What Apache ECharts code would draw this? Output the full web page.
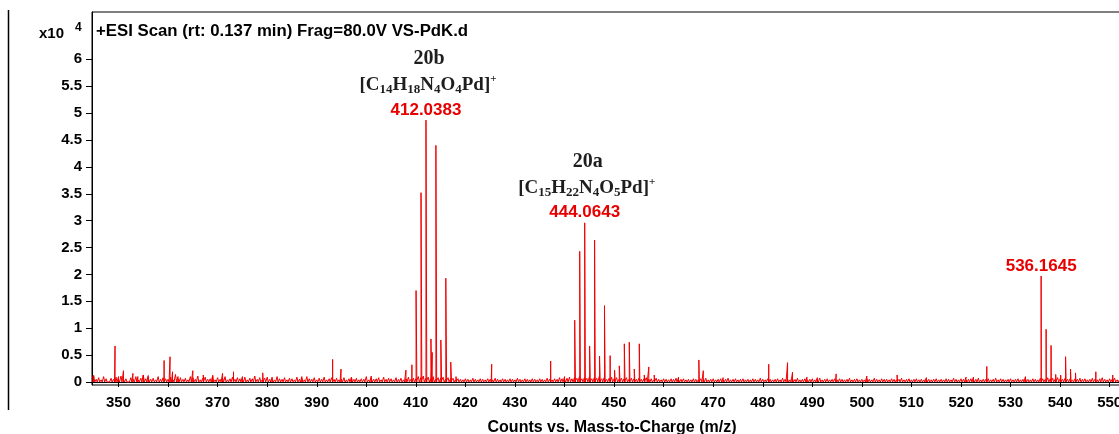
<!DOCTYPE html>
<html><head><meta charset="utf-8">
<script src="https://cdn.jsdelivr.net/npm/echarts@6/dist/echarts.min.js"></script>
<style>html,body{margin:0;padding:0;background:#fff;}#c{width:1119px;height:434px;}</style>
</head><body><div id="c"></div>
<script>
// ---- data ----
const xTicks = [350,360,370,380,390,400,410,420,430,440,450,460,470,480,490,500,510,520,530,540,550];
const yTicks = [0,0.5,1,1.5,2,2.5,3,3.5,4,4.5,5,5.5,6];

// distinct peaks: m/z and height (x10^4 counts)
const peakMz = [344.9,349.3,350.0,351.0,352.9,353.9,355.0,356.0,359.2,360.4,360.9,362.0,365.0,367.1,369.0,371.0,373.2,375.0,379.1,381.0,387.0,393.2,394.9,397.0,401.0,
  408.0,409.2,410.04,411.04,412.0383,413.04,413.3,414.04,415.04,416.04,417.04,418.1,425.3,
  437.2,440.0,442.05,443.06,444.0643,445.06,446.06,447.06,448.06,449.2,450.1,451.05,452.06,453.06,454.07,455.08,456.09,457.0,458.1,
  463.0,467.1,468.0,472.0,481.2,485.0,486.0,488.9,491.0,494.8,501.0,507.1,513.0,521.0,522.5,525.2,533.0,
  536.1645,537.17,538.17,539.1,540.1,541.1,542.1,543.1,547.2,550.6];
const peakHeight = [0.12,0.67,0.10,0.21,0.16,0.10,0.13,0.12,0.40,0.47,0.19,0.10,0.21,0.13,0.12,0.16,0.19,0.10,0.17,0.09,0.10,0.42,0.24,0.09,0.11,
  0.22,0.32,1.70,3.52,4.87,0.80,0.55,4.40,0.78,1.93,0.37,0.10,0.33,
  0.39,0.10,1.15,2.43,2.96,0.67,2.64,0.48,1.42,0.49,0.22,0.30,0.71,0.74,0.24,0.71,0.13,0.28,0.13,
  0.09,0.41,0.21,0.08,0.33,0.36,0.18,0.09,0.08,0.15,0.11,0.13,0.08,0.09,0.09,0.29,0.10,
  1.97,0.98,0.68,0.14,0.13,0.47,0.24,0.17,0.19,0.13];

// baseline noise, one value every 0.5 m/z starting at 345
const noiseStart = 345;
const noiseStep = 0.5;
const noise = [
  0.12,0.05,0.08,0.04,0.10,0.06,0.03,0.07,0.05,0.09,0.04,0.11,0.05,0.06,0.03,0.08,0.05,0.10,0.04,0.07,
  0.13,0.06,0.09,0.05,0.07,0.04,0.10,0.05,0.08,0.06,0.05,0.09,0.04,0.14,0.06,0.08,0.05,0.07,0.04,0.10,
  0.08,0.05,0.11,0.04,0.07,0.09,0.05,0.06,0.12,0.04,0.08,0.05,0.07,0.10,0.04,0.06,0.09,0.05,0.08,0.06,
  0.05,0.09,0.04,0.07,0.06,0.11,0.05,0.08,0.04,0.07,0.09,0.05,0.06,0.04,0.10,0.06,0.05,0.08,0.04,0.07,
  0.06,0.04,0.09,0.05,0.07,0.04,0.10,0.06,0.05,0.08,0.04,0.07,0.05,0.09,0.04,0.06,0.08,0.05,0.07,0.04,
  0.05,0.08,0.04,0.06,0.09,0.05,0.07,0.04,0.06,0.05,0.10,0.04,0.07,0.05,0.06,0.08,0.04,0.09,0.05,0.07,
  0.06,0.04,0.08,0.05,0.07,0.04,0.06,0.09,0.05,0.07,0.06,0.10,0.08,0.11,0.07,0.09,0.06,0.10,0.05,0.08,
  0.07,0.09,0.05,0.08,0.06,0.07,0.04,0.06,0.05,0.04,0.06,0.05,0.04,0.07,0.05,0.04,0.06,0.05,0.04,0.06,
  0.05,0.04,0.07,0.05,0.04,0.06,0.05,0.04,0.06,0.05,0.04,0.07,0.05,0.04,0.06,0.05,0.04,0.06,0.05,0.04,
  0.06,0.05,0.04,0.07,0.05,0.04,0.06,0.05,0.08,0.06,0.05,0.07,0.09,0.06,0.08,0.07,0.10,0.06,0.08,0.07,
  0.09,0.06,0.08,0.07,0.10,0.06,0.08,0.05,0.07,0.09,0.06,0.08,0.05,0.07,0.06,0.08,0.05,0.07,0.06,0.05,
  0.07,0.05,0.06,0.08,0.05,0.06,0.04,0.07,0.05,0.04,0.06,0.05,0.04,0.06,0.05,0.07,0.04,0.05,0.06,0.04,
  0.05,0.04,0.06,0.05,0.04,0.06,0.05,0.07,0.04,0.05,0.06,0.04,0.05,0.06,0.04,0.05,0.07,0.04,0.05,0.06,
  0.04,0.05,0.06,0.04,0.05,0.04,0.06,0.05,0.04,0.07,0.05,0.04,0.06,0.05,0.04,0.05,0.06,0.04,0.07,0.05,
  0.05,0.04,0.06,0.05,0.07,0.04,0.05,0.06,0.04,0.05,0.06,0.04,0.05,0.07,0.04,0.05,0.06,0.04,0.05,0.06,
  0.04,0.06,0.05,0.04,0.05,0.07,0.04,0.05,0.06,0.04,0.05,0.04,0.06,0.05,0.04,0.07,0.05,0.04,0.06,0.05,
  0.05,0.04,0.06,0.05,0.04,0.05,0.07,0.04,0.05,0.06,0.04,0.05,0.06,0.04,0.05,0.04,0.06,0.05,0.04,0.05,
  0.06,0.04,0.05,0.04,0.06,0.05,0.04,0.07,0.05,0.04,0.06,0.05,0.04,0.05,0.06,0.04,0.05,0.07,0.04,0.05,
  0.05,0.06,0.04,0.05,0.07,0.04,0.06,0.05,0.04,0.05,0.06,0.04,0.05,0.06,0.04,0.05,0.07,0.05,0.04,0.06,
  0.05,0.04,0.07,0.06,0.05,0.08,0.06,0.07,0.05,0.08,0.06,0.05,0.07,0.05,0.06,0.04,0.06,0.05,0.07,0.05,
  0.06,0.04,0.05,0.07,0.05,0.04,0.06,0.08,0.05,0.04,0.06,0.05,0.07,0.04,0.05,0.06,0.04,0.05,0.06,0.04
];

// annotated peaks
const annotMz = [412.0383, 444.0643, 536.1645];
const annotName = ['20b', '20a', ''];
const annotFormula = [
  '{n|[C}{s|14}{n|H}{s|18}{n|N}{s|4}{n|O}{s|4}{n|Pd]}{p|+}',
  '{n|[C}{s|15}{n|H}{s|22}{n|N}{s|4}{n|O}{s|5}{n|Pd]}{p|+}',
  ''
];

const titleText = '+ESI Scan (rt: 0.137 min) Frag=80.0V VS-PdK.d';
const xName = 'Counts vs. Mass-to-Charge (m/z)';

// ---- build trace: peaks as sticks, noise as a jagged profile ----
const pts = [];
peakMz.forEach((m, i) => pts.push({ m: m, h: peakHeight[i], w: 0 }));
noise.forEach((h, i) => pts.push({ m: noiseStart + i * noiseStep, h: h, w: 0.2 }));
pts.sort((a, b) => a.m - b.m);
const lineData = [];
pts.forEach(s => { lineData.push([s.m - s.w, 0], [s.m, s.h], [s.m + s.w, 0]); });

const FONT = 'Arial, "Liberation Sans", sans-serif';
const SERIF = '"Times New Roman", "Liberation Serif", serif';
const RED = '#e80000';
const INK = '#1e1e1e';

const chart = echarts.init(document.getElementById('c'), null, { renderer: 'canvas' });
const option = {
  animation: false,
  backgroundColor: '#fff',
  grid: { left: 92, top: 12, width: 1040, height: 373, show: true, borderColor: '#000', borderWidth: 1, backgroundColor: 'transparent', outerBoundsMode: 'none' },
  xAxis: {
    type: 'value', min: 344.65, max: 554.5,
    axisLine: { show: true, lineStyle: { color: '#000', width: 1 } },
    axisTick: { show: true, customValues: xTicks, length: 5, lineStyle: { color: '#000' } },
    axisLabel: { customValues: xTicks, color: '#000', fontFamily: FONT, fontWeight: 'bold', fontSize: 15, margin: 10 },
    splitLine: { show: false },
    name: xName, nameLocation: 'middle', nameGap: 35,
    nameTextStyle: { color: '#000', fontFamily: FONT, fontWeight: 'bold', fontSize: 16 }
  },
  yAxis: {
    type: 'value', min: -0.056, max: 6.88,
    axisLine: { show: true, lineStyle: { color: '#000', width: 1 } },
    axisTick: { show: true, customValues: yTicks, length: 6, lineStyle: { color: '#000' } },
    axisLabel: { customValues: yTicks, color: '#000', fontFamily: FONT, fontWeight: 'bold', fontSize: 15, margin: 10 },
    splitLine: { show: false }
  },
  series: [{
    type: 'line', data: lineData, showSymbol: false, symbol: 'none', clip: true,
    lineStyle: { color: '#f00000', width: 1, join: 'bevel' },
    emphasis: { disabled: true }, silent: true
  }]
};
chart.setOption(option);

const graphics = [
  { type: 'line', shape: { x1: 8.5, y1: 10, x2: 8.5, y2: 410 }, style: { stroke: '#000', lineWidth: 1.5 } },
  { type: 'text', x: 39, y: 34, style: { text: 'x10', fill: '#000', font: 'bold 15px ' + FONT, verticalAlign: 'middle' } },
  { type: 'text', x: 75, y: 28, style: { text: '4', fill: '#000', font: 'bold 12px ' + FONT, verticalAlign: 'middle' } },
  { type: 'text', x: 96, y: 31, style: { text: titleText, fill: '#000', font: 'bold 16.8px ' + FONT, verticalAlign: 'middle' } }
];
annotMz.forEach((m, i) => {
  const idx = peakMz.indexOf(m);
  const p = chart.convertToPixel({ gridIndex: 0 }, [m, peakHeight[idx]]);
  graphics.push({ type: 'text', x: p[0], y: p[1] - 10, style: { text: m.toFixed(4), fill: RED, font: 'bold 17px ' + FONT, align: 'center', verticalAlign: 'middle' } });
  if (annotFormula[i]) {
    graphics.push({ type: 'text', x: p[0] + 2, y: p[1] - 35, style: {
      text: annotFormula[i], align: 'center', verticalAlign: 'middle', fill: INK,
      rich: {
        n: { fontFamily: SERIF, fontWeight: 'bold', fontSize: 19, lineHeight: 22, fill: INK, verticalAlign: 'middle' },
        s: { fontFamily: SERIF, fontWeight: 'bold', fontSize: 13, lineHeight: 22, fill: INK, verticalAlign: 'bottom' },
        p: { fontFamily: SERIF, fontWeight: 'bold', fontSize: 11, lineHeight: 22, fill: INK, verticalAlign: 'top' }
      }
    } });
  }
  if (annotName[i]) {
    graphics.push({ type: 'text', x: p[0] + 3, y: p[1] - 61, style: { text: annotName[i], fill: INK, font: 'bold 20px ' + SERIF, align: 'center', verticalAlign: 'middle' } });
  }
});
chart.setOption({ graphic: graphics });
</script>
</body></html>
